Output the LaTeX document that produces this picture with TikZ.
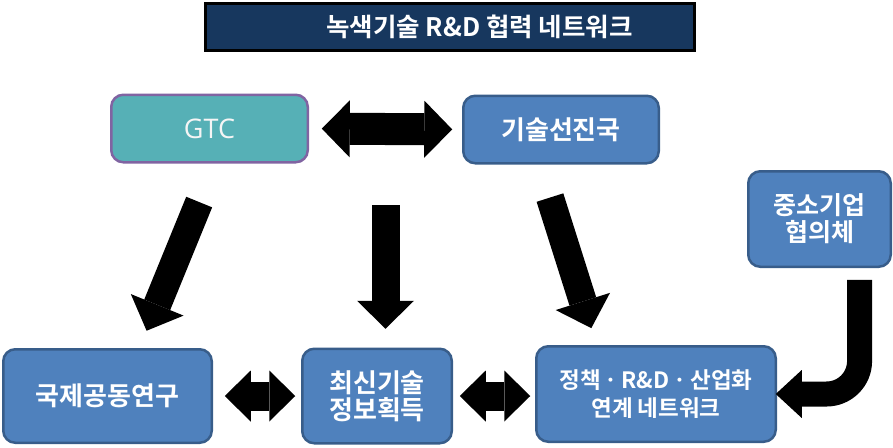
\documentclass[tikz,border=0pt]{standalone}
\usepackage{fontspec}
\setmainfont{Noto Sans CJK KR}[BoldFont={Noto Sans CJK KR Bold}]
\newfontfamily\gtcfont{Open Sans}
\usetikzlibrary{arrows.meta,calc}
\definecolor{title_navy}{HTML}{17375E}
\definecolor{box_blue}{HTML}{4F81BD}
\definecolor{box_edge}{HTML}{385D8A}
\definecolor{gtc_teal}{HTML}{56B0B6}
\definecolor{gtc_edge}{HTML}{8064A2}

\tikzset{
  box/.style={draw=box_edge, fill=box_blue, line width=2.5pt, rounded corners=12pt,
    text=white, font=\bfseries\fontsize{26}{27}\selectfont, align=center,
    inner sep=0pt, outer sep=0pt, minimum height=67.5pt},
  gtcbox/.style={box, draw=gtc_edge, fill=gtc_teal, text=gray!8,
    font=\gtcfont\fontsize{27}{30}\selectfont},
  titlebox/.style={draw=black, fill=title_navy, line width=3pt, text=white,
    font=\bfseries\fontsize{25.5}{28}\selectfont, inner sep=0pt, outer sep=0pt,
    minimum width=489pt, minimum height=47pt},
  linkarrow/.style={line width=32pt,
    {Triangle[length=28pt,width=57pt,line width=0pt]}-{Triangle[length=28pt,width=57pt,line width=0pt]}},
  pairarrow/.style={line width=29pt,
    {Triangle[length=26pt,width=51pt,line width=0pt]}-{Triangle[length=26pt,width=51pt,line width=0pt]}},
  downarrow/.style={line width=28pt, -{Triangle[length=28pt,width=57pt,line width=0pt]}},
  bentarrow/.style={line width=25pt, rounded corners=33pt,
    -{Triangle[length=26pt,width=48pt,line width=0pt]}}
}

\begin{document}
\begin{tikzpicture}[x=1pt, y=-1pt]
\useasboundingbox (0,0) rectangle (893,447);

% title
\node[titlebox] (title) at (450,27) {\hspace*{59pt}녹색기술 R\&D 협력 네트워크};

% top row
\node[gtcbox, minimum width=196.5pt] (gtc) at (209.5,128.5) {GTC};
\node[box, minimum width=195.5pt] (adv) at (561,129.5) {기술선진국};
\node[box, minimum width=142.5pt, minimum height=95.5pt,
  font=\bfseries\fontsize{25}{27}\selectfont] (sme) at (819.5,219) {중소기업\\협의체};

% bottom row
\node[box, minimum width=208.5pt, minimum height=93.5pt] (joint) at (107.5,396) {국제공동연구};
\node[box, minimum width=149.5pt, minimum height=94.5pt] (info) at (377,396) {최신기술\\정보획득};
\node[box, minimum width=239.5pt, minimum height=95.5pt,
  font=\bfseries\fontsize{22.5}{28}\selectfont] (policy) at (656,394) {정책ㆍR\&Dㆍ산업화\\연계 네트워크};

% links
\draw[linkarrow, shorten <=14pt, shorten >=11pt] (gtc.east) -- (adv.west);
\coordinate (hub) at ($(gtc.east)!0.5!(adv.west)$);
\draw[downarrow, shorten <=76pt, shorten >=20pt] (hub) -- (hub |- info.north);
\draw[downarrow, shorten <=43pt, shorten >=20pt] (gtc.-80) -- (joint.56);
\draw[downarrow, shorten <=36pt, shorten >=19pt] (adv.-123) -- (policy.141);
\draw[pairarrow, shorten <=13pt, shorten >=7pt] (joint.east) -- (joint.east -| info.west);
\draw[pairarrow, shorten <=8pt, shorten >=6pt] (info.east) -- (info.east -| policy.west);
\draw[bentarrow, shorten <=13pt] (sme.-50) |- (policy.east);

\end{tikzpicture}
\end{document}
